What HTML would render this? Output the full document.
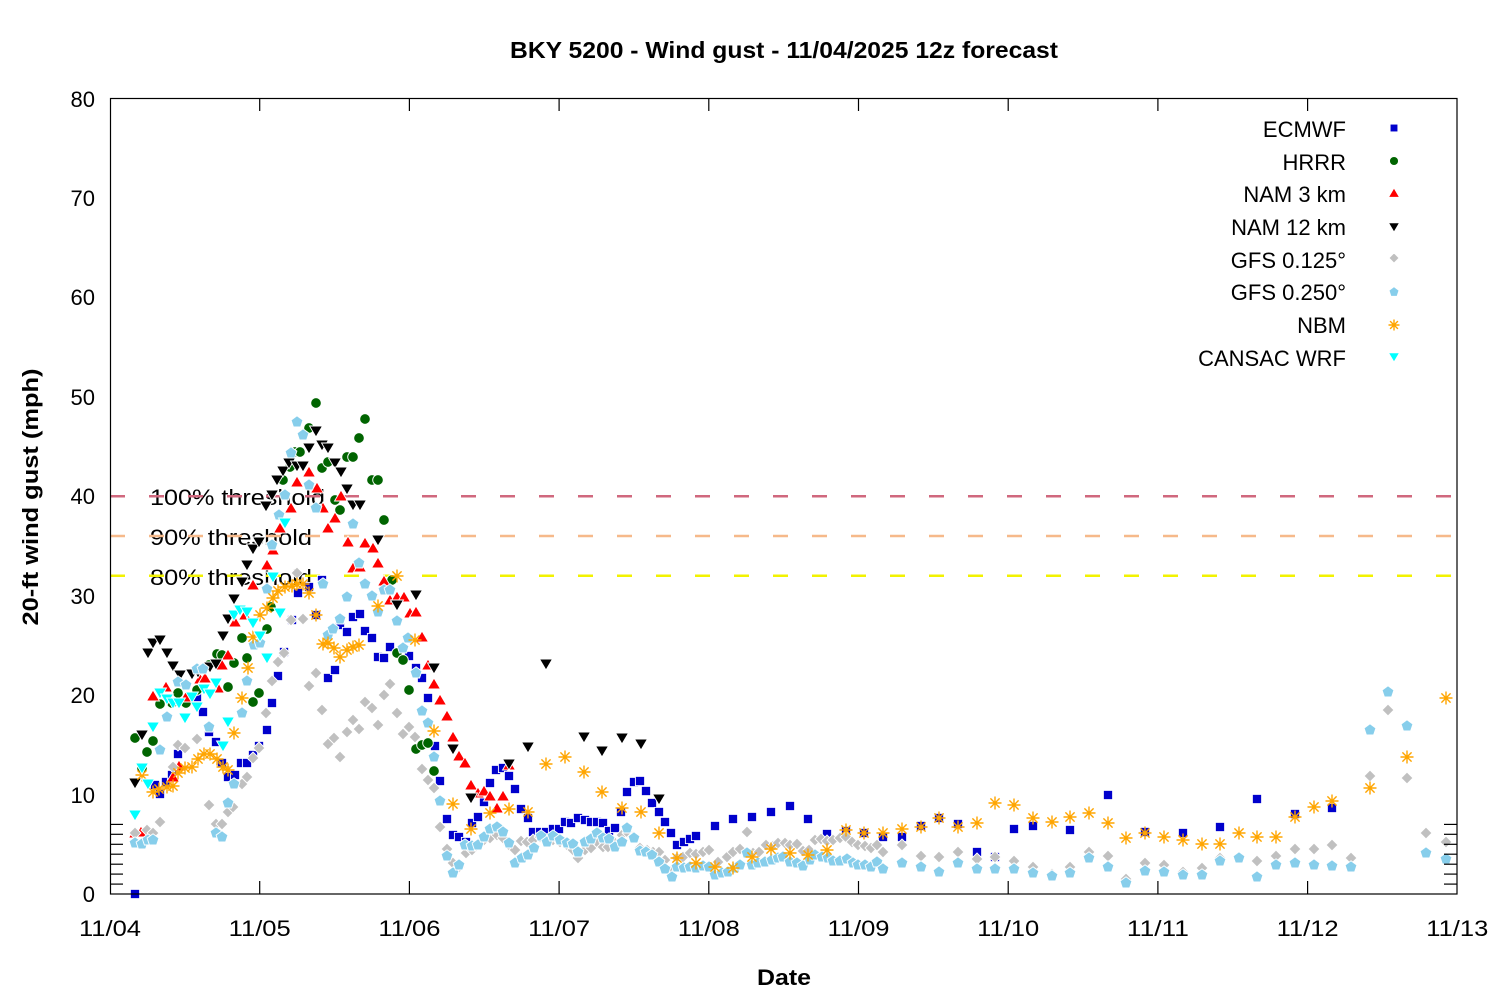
<!DOCTYPE html>
<html><head><meta charset="utf-8"><style>
html,body{margin:0;padding:0;background:#fff;}
svg{display:block;font-family:"Liberation Sans",sans-serif;}
</style></head><body>
<svg id="c" width="1500" height="1000" viewBox="0 0 1500 1000" xmlns="http://www.w3.org/2000/svg">
<rect width="1500" height="1000" fill="#fff"/>
<text x="784" y="58" font-size="23" font-weight="bold" text-anchor="middle" textLength="548" lengthAdjust="spacingAndGlyphs">BKY 5200 - Wind gust - 11/04/2025 12z forecast</text>
<g font-size="22" text-anchor="end">
<text x="95" y="902">0</text><text x="95" y="803">10</text><text x="95" y="703">20</text><text x="95" y="604">30</text><text x="95" y="504">40</text><text x="95" y="405">50</text><text x="95" y="305">60</text><text x="95" y="206">70</text><text x="95" y="107">80</text>
</g>
<g font-size="22" text-anchor="middle" id="xl"></g>
<text transform="translate(38,497) rotate(-90)" font-size="22" font-weight="bold" text-anchor="middle" textLength="257" lengthAdjust="spacingAndGlyphs">20-ft wind gust (mph)</text>
<text x="784" y="985" font-size="22" font-weight="bold" text-anchor="middle" textLength="54" lengthAdjust="spacingAndGlyphs">Date</text>
<g font-size="22">
<text x="150" y="505" textLength="175" lengthAdjust="spacingAndGlyphs">100% threshold</text>
<text x="150" y="545" textLength="162" lengthAdjust="spacingAndGlyphs">90% threshold</text>
<text x="150" y="585" textLength="162" lengthAdjust="spacingAndGlyphs">80% threshold</text>
</g>
<g stroke-width="2.5" stroke-dasharray="15 24">
<line x1="110" y1="496.2" x2="1457" y2="496.2" stroke="#d0687e"/>
<line x1="110" y1="536" x2="1457" y2="536" stroke="#f6b98a"/>
<line x1="110" y1="575.8" x2="1457" y2="575.8" stroke="#f2f200"/>
</g>
<g id="data"></g>
<rect x="110.5" y="98.5" width="1346.5" height="795.5" fill="none" stroke="#000" stroke-width="1.2"/>
<g id="ticks" stroke="#000" stroke-width="1.2"></g>
<g font-size="22" text-anchor="end">
<text x="1346" y="137">ECMWF</text>
<text x="1346" y="170">HRRR</text>
<text x="1346" y="202">NAM 3 km</text>
<text x="1346" y="235">NAM 12 km</text>
<text x="1346" y="268">GFS 0.125°</text>
<text x="1346" y="300">GFS 0.250°</text>
<text x="1346" y="333">NBM</text>
<text x="1346" y="366">CANSAC WRF</text>
</g>
<g id="leg"></g>
</svg>
<script>
(function(){
function f(n){return Math.round(n*10)/10;}
var M={
sq:function(x,y,s){var h=4.6*s;return '<rect x="'+f(x-h)+'" y="'+f(y-h)+'" width="'+f(2*h)+'" height="'+f(2*h)+'"/>';},
ci:function(x,y,s){return '<circle cx="'+x+'" cy="'+y+'" r="'+f(5.3*s)+'"/>';},
tu:function(x,y,s){return '<polygon points="'+x+','+f(y-6*s)+' '+f(x+6.5*s)+','+f(y+5*s)+' '+f(x-6.5*s)+','+f(y+5*s)+'"/>';},
td:function(x,y,s){return '<polygon points="'+x+','+f(y+6*s)+' '+f(x+6.5*s)+','+f(y-5*s)+' '+f(x-6.5*s)+','+f(y-5*s)+'"/>';},
di:function(x,y,s){var r=6*s;return '<polygon points="'+x+','+f(y-r)+' '+f(x+r)+','+y+' '+x+','+f(y+r)+' '+f(x-r)+','+y+'"/>';},
pe:function(x,y,s){var r=6.2*s,p=[];for(var k=0;k<5;k++){var a=(-90+72*k)*Math.PI/180;p.push(f(x+r*Math.cos(a))+','+f(y+r*Math.sin(a)));}return '<polygon points="'+p.join(' ')+'"/>';},
as:function(x,y,s){var r=6.5*s,d=4.6*s;return '<path d="M'+f(x-r)+' '+y+'H'+f(x+r)+'M'+x+' '+f(y-r)+'V'+f(y+r)+'M'+f(x-d)+' '+f(y-d)+'L'+f(x+d)+' '+f(y+d)+'M'+f(x-d)+' '+f(y+d)+'L'+f(x+d)+' '+f(y-d)+'"/>';}
};
var S=[
{m:'sq',c:'#0000cc',ly:128,d:[135,894,155,785,160,794,166,782,172,775,178,754,197,697,203,712,209,732,216,742,222,763,228,777,235,775,241,763,247,763,253,755,259,746,267,730,272,703,278,676,284,652,292,620,298,593,309,587,316,615,322,580,328,678,335,670,340,625,347,632,353,617,360,614,365,631,372,638,378,657,384,658,390,647,409,656,416,668,422,678,428,698,435,746,440,781,447,819,453,835,459,837,466,842,472,823,478,817,484,802,490,783,496,770,503,768,509,776,515,789,521,809,528,818,533,832,540,832,546,832,553,829,559,829,565,822,571,823,578,818,585,820,591,822,597,822,603,823,609,831,615,828,621,812,627,792,634,782,640,781,646,791,652,803,659,812,665,822,671,833,677,845,684,842,690,839,696,836,715,826,733,819,752,817,771,812,790,806,808,819,827,834,846,831,864,833,883,837,902,837,921,826,939,818,958,824,977,852,995,857,1014,829,1033,826,1070,830,1108,795,1145,832,1183,833,1220,827,1257,799,1295,814,1332,808]},
{m:'ci',c:'#006400',ly:161,d:[135,738,142,768,147,752,153,741,160,704,172,703,178,693,186,703,197,690,209,665,217,654,222,655,228,687,234,663,242,638,247,658,253,702,259,693,267,629,271,607,283,480,290,467,295,452,300,452,309,428,316,403,322,468,328,462,335,500,340,510,347,457,353,457,359,438,365,419,372,480,378,480,384,520,392,580,397,653,403,660,409,690,416,749,422,745,428,743,434,771]},
{m:'tu',c:'#ff0000',ly:193,d:[135,833,141,832,153,696,166,687,173,777,179,766,186,697,200,679,205,678,218,688,222,665,228,655,235,622,245,615,253,585,267,565,273,550,280,528,291,508,297,482,309,472,317,488,323,508,328,528,335,518,341,496,348,542,353,568,360,567,365,543,373,548,378,563,384,581,390,600,397,597,404,597,410,613,416,612,422,637,428,665,434,684,440,700,447,716,453,737,459,756,465,763,471,785,478,793,484,791,490,796,497,808,503,796,509,765]},
{m:'td',c:'#000000',ly:227,d:[135,783,142,735,148,653,153,643,160,640,167,653,173,666,180,675,192,674,198,672,210,667,216,664,223,636,228,619,234,599,242,582,247,565,253,549,259,542,266,506,272,495,277,480,283,471,289,463,297,466,303,466,309,448,316,431,322,445,328,448,335,463,341,472,347,489,353,505,360,505,378,540,397,605,416,595,434,668,453,749,471,798,509,764,528,747,546,664,584,737,602,751,622,738,641,744,659,799]},
{m:'di',c:'#c0c0c0',ly:258,d:[135,833,147,830,153,833,160,822,173,767,178,745,185,748,197,739,209,805,216,824,222,824,228,812,233,807,242,784,247,777,253,758,259,748,266,713,272,681,278,662,284,653,291,620,297,573,303,619,309,686,316,673,322,710,328,744,334,738,340,757,347,732,353,720,359,729,365,702,372,708,378,725,384,695,390,684,397,713,403,734,409,727,415,737,422,769,428,780,434,788,440,827,447,849,453,863,459,867,466,853,472,850,484,840,490,838,497,835,503,838,509,845,515,850,521,841,527,842,533,840,540,837,547,840,553,840,560,842,567,845,573,850,578,858,585,850,591,848,597,842,603,847,608,847,615,843,622,835,628,833,633,837,640,848,647,850,653,852,659,852,665,860,672,870,677,858,683,857,690,853,696,854,703,852,709,850,718,862,727,857,733,852,740,849,747,832,753,853,759,852,766,845,773,846,778,843,785,843,790,845,797,844,803,851,809,850,815,840,821,839,827,841,833,840,840,838,846,837,852,842,858,845,865,846,871,848,877,845,883,852,902,845,921,856,939,857,958,852,977,859,995,857,1014,861,1033,867,1052,874,1070,867,1089,852,1108,856,1126,879,1145,863,1164,865,1183,872,1202,868,1220,858,1257,861,1276,856,1295,849,1314,849,1332,845,1351,858,1370,776,1388,710,1407,778,1426,833,1446,842]},
{m:'pe',c:'#87ceeb',ly:292,d:[135,843,142,844,148,840,153,840,160,750,167,717,178,682,186,685,197,669,203,669,209,727,216,833,222,837,228,803,234,784,242,713,247,681,254,645,260,643,267,589,272,545,279,515,285,495,291,453,297,422,303,435,309,485,316,508,323,584,328,635,333,629,340,619,347,597,353,524,359,563,365,584,372,596,378,612,384,590,390,590,397,621,403,648,408,638,416,673,422,711,428,723,434,757,440,801,447,856,453,873,459,865,465,845,472,846,478,845,484,837,490,829,497,827,503,832,509,843,515,863,522,858,528,855,534,848,541,836,547,842,553,836,560,840,567,843,573,844,578,852,585,842,591,839,597,833,603,838,609,839,615,847,622,842,627,828,634,838,640,851,646,852,652,855,659,862,665,869,672,877,677,867,684,868,690,867,696,868,703,866,709,867,715,875,722,873,728,872,735,868,740,865,747,853,752,865,758,863,765,862,772,860,778,858,783,857,790,862,797,863,803,866,810,860,815,855,822,857,828,858,833,861,840,861,847,859,853,863,858,865,865,865,871,867,877,862,883,869,902,863,921,867,939,872,958,863,977,869,995,869,1014,869,1033,873,1052,876,1070,873,1089,858,1108,867,1126,883,1145,871,1164,872,1183,875,1202,875,1220,861,1239,858,1257,877,1276,865,1295,863,1314,865,1332,866,1351,867,1370,730,1388,692,1407,726,1426,853,1446,859]},
{m:'as',c:'#ffa500',ly:325,d:[142,775,153,792,159,789,167,787,173,786,178,773,185,768,192,767,198,759,204,754,210,754,217,759,223,767,228,770,234,733,242,698,248,668,253,637,260,615,267,608,273,598,278,591,285,587,292,586,297,584,303,584,309,593,316,615,323,644,328,643,334,648,340,657,347,650,353,647,359,645,378,606,397,576,415,640,434,731,453,804,471,829,490,813,509,809,528,812,546,764,565,757,584,772,602,792,622,808,641,812,659,833,677,858,696,863,715,867,733,868,752,857,771,849,790,853,808,855,827,850,846,830,864,833,883,833,902,829,921,827,939,818,958,827,977,823,995,803,1014,805,1033,818,1052,822,1070,817,1089,813,1108,823,1126,838,1145,833,1164,837,1183,840,1202,844,1220,844,1239,833,1257,837,1276,837,1295,817,1314,807,1332,801,1370,788,1407,757,1446,698]},
{m:'td',c:'#00ffff',ly:357,d:[135,815,142,768,148,784,153,727,160,693,167,699,173,703,179,703,185,718,192,697,197,707,204,689,210,694,216,683,223,746,228,722,234,615,240,610,247,612,253,623,260,636,267,658,273,577,280,613,285,523]}
];
var html='',leg='';
S.forEach(function(s){
  var isA=s.m==='as';
  var g=isA?'<g fill="none" stroke="'+s.c+'" stroke-width="1.4">':'<g fill="'+s.c+'" stroke="#ffffff" stroke-width="0.9">';
  var b=g;
  for(var i=0;i<s.d.length;i+=2){b+=M[s.m](s.d[i],s.d[i+1],1);}
  html+=b+'</g>';
  leg+=g+M[s.m](1394,s.ly,0.85)+'</g>';
});
document.getElementById('data').innerHTML=html;
document.getElementById('leg').innerHTML=leg;
var t='',xl='';
var labs=['11/04','11/05','11/06','11/07','11/08','11/09','11/10','11/11','11/12','11/13'];
for(var i=0;i<10;i++){var x=f(110+i*149.7);
  if(i>0&&i<9){t+='<line x1="'+x+'" y1="894" x2="'+x+'" y2="881"/><line x1="'+x+'" y1="98.5" x2="'+x+'" y2="111"/>';}
  xl+='<text x="'+x+'" y="936" textLength="62" lengthAdjust="spacingAndGlyphs">'+labs[i]+'</text>';}
for(var v=1;v<8;v++){var y=f(894-v*9.944);
  t+='<line x1="110" y1="'+y+'" x2="123" y2="'+y+'"/><line x1="1457" y1="'+y+'" x2="1444" y2="'+y+'"/>';}
document.getElementById('ticks').innerHTML=t;
document.getElementById('xl').innerHTML=xl;
})();
</script>
</body></html>
